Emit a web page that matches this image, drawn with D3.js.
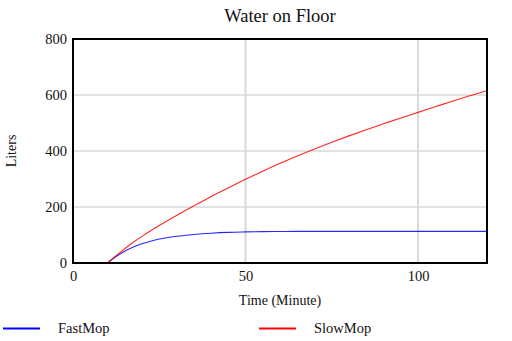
<!DOCTYPE html>
<html><head><meta charset="utf-8">
<script src="https://cdn.jsdelivr.net/npm/d3@7"></script>
<style>
html,body{margin:0;padding:0;background:#fff;}
svg{display:block;}
svg text{font-family:'Liberation Serif','Times New Roman','DejaVu Serif',serif !important;fill:#111;}
</style></head>
<body>
<svg id="chart" width="512" height="341"></svg>
<script>
const title = "Water on Floor";
const xTitle = "Time (Minute)";
const yTitle = "Liters";
const seriesNames = ["FastMop", "SlowMop"];
const seriesColors = ["#0000ff", "#ff0000"];
const time = [0, 5, 10, 12.5, 15, 17.5, 20, 22.5, 25, 30, 35, 40, 45, 50, 55, 60, 65, 70, 75, 80, 85, 90, 95, 100, 105, 110, 115, 120];
const fastMop = [0, 0, 0, 23, 42, 57, 69, 78, 85.5, 95.5, 102, 106.5, 109.5, 111, 112, 112.5, 113, 113, 113, 113, 113, 113, 113, 113, 113, 113, 113, 113];
const slowMop = [0, 0, 0, 26, 51, 74, 95, 115, 134, 170, 204, 237, 268, 299, 328, 356, 382, 407, 431, 454, 476, 497, 518, 538, 558, 578, 597, 616];
const xTicks = [0, 50, 100];
const yTicks = [0, 200, 400, 600, 800];
const startTime = 10; // inflow starts here

const svg = d3.select("#chart");
const m = {left: 73, right: 25, top: 39, bottom: 78};
const W = 512, H = 341;
const x = d3.scaleLinear().domain([0, 120]).range([m.left, W - m.right]);
const y = d3.scaleLinear().domain([0, 800]).range([H - m.bottom, m.top]);

// grid
svg.append("g").selectAll("line.h").data(yTicks.filter(d => d > 0 && d < 800)).join("line")
  .attr("x1", x(0)).attr("x2", x(120)).attr("y1", d => y(d)).attr("y2", d => y(d))
  .attr("stroke", "#c4c4c4").attr("stroke-width", 1);
svg.append("g").selectAll("line.v").data(xTicks.filter(d => d > 0)).join("line")
  .attr("y1", y(0)).attr("y2", y(800)).attr("x1", d => x(d)).attr("x2", d => x(d))
  .attr("stroke", "#d9d9d9").attr("stroke-width", 2);

// series
const series = [fastMop, slowMop];
const line = d3.line().x(d => x(d[0])).y(d => y(d[1])).curve(d3.curveMonotoneX);
series.forEach((s, k) => {
  const pts = time.map((t, i) => [t, s[i]]);
  const flat = pts.filter(p => p[0] <= startTime);
  const rise = pts.filter(p => p[0] >= startTime);
  svg.append("path").attr("d", line(flat) + line(rise).replace(/^M/, "L")).attr("fill", "none")
    .attr("stroke", seriesColors[k]).attr("stroke-width", 1.1).attr("stroke-opacity", 0.85);
});

// frame
svg.append("rect").attr("x", x(0)).attr("y", y(800)).attr("width", x(120) - x(0)).attr("height", y(0) - y(800))
  .attr("fill", "none").attr("stroke", "#000").attr("stroke-width", 2);

// axes
const yAxis = d3.axisLeft(y).tickValues(yTicks).tickSize(0).tickPadding(6);
const gy = svg.append("g").attr("transform", `translate(${x(0)},0)`).call(yAxis).attr("font-family", null).attr("font-size", 14.5);
gy.select(".domain").remove();

const xAxis = d3.axisBottom(x).tickValues(xTicks).tickSize(0).tickPadding(8);
const gx = svg.append("g").attr("transform", `translate(0,${y(0)})`).call(xAxis).attr("font-family", null).attr("font-size", 14.5);
gx.select(".domain").remove();

// titles
svg.append("text").attr("x", (x(0) + x(120)) / 2).attr("y", 22).attr("text-anchor", "middle")
  .style("font-size", "18.5px").text(title);
svg.append("text").attr("x", (x(0) + x(120)) / 2).attr("y", 305).attr("text-anchor", "middle")
  .style("font-size", "14px").text(xTitle);
svg.append("text").attr("transform", `translate(16,${(y(0) + y(800)) / 2}) rotate(-90)`)
  .attr("text-anchor", "middle").style("font-size", "14px").text(yTitle);

// legend
const legX = [3, 259];
seriesNames.forEach((n, k) => {
  svg.append("line").attr("x1", legX[k]).attr("x2", legX[k] + 37).attr("y1", 328.5).attr("y2", 328.5)
    .attr("stroke", seriesColors[k]).attr("stroke-width", 2);
  svg.append("text").attr("x", legX[k] + 55).attr("y", 333).style("font-size", "14.5px").text(n);
});
</script>
</body></html>
